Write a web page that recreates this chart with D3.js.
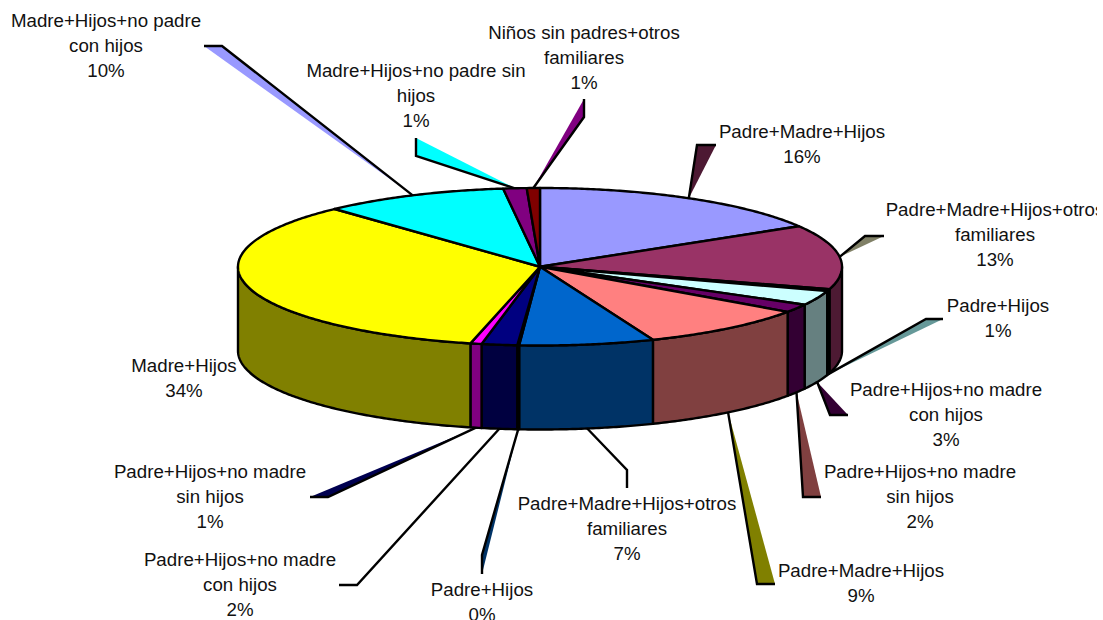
<!DOCTYPE html>
<html><head><meta charset="utf-8">
<script src="https://cdn.jsdelivr.net/npm/d3@7/dist/d3.min.js"></script>
<style>html,body{margin:0;background:#fff}svg{display:block}text{font-family:"Liberation Sans",Arial,sans-serif;font-size:18.7px;fill:#111}</style>
</head><body><div id="c"></div>
<script>
const categories = [
 "Padre+Madre+Hijos","Padre+Madre+Hijos+otros familiares","Padre+Hijos","Padre+Hijos+no madre con hijos",
 "Padre+Hijos+no madre sin hijos","Padre+Madre+Hijos","Padre+Madre+Hijos+otros familiares","Padre+Hijos",
 "Padre+Hijos+no madre con hijos","Padre+Hijos+no madre sin hijos","Madre+Hijos","Madre+Hijos+no padre con hijos",
 "Madre+Hijos+no padre sin hijos","Niños sin padres+otros familiares"];
const values = [16.4,13.2,0.4,3.0,1.7,9.2,7.2,0.1,1.9,0.6,34.4,9.95,1.25,0.7];
const percentLabels = ["16%","13%","1%","3%","2%","9%","7%","0%","2%","1%","34%","10%","1%","1%"];
const labelLines = [
 ["Padre+Madre+Hijos"],["Padre+Madre+Hijos+otros","familiares"],["Padre+Hijos"],["Padre+Hijos+no madre","con hijos"],
 ["Padre+Hijos+no madre","sin hijos"],["Padre+Madre+Hijos"],["Padre+Madre+Hijos+otros","familiares"],["Padre+Hijos"],
 ["Padre+Hijos+no madre","con hijos"],["Padre+Hijos+no madre","sin hijos"],["Madre+Hijos"],["Madre+Hijos+no padre","con hijos"],
 ["Madre+Hijos+no padre sin","hijos"],["Niños sin padres+otros","familiares"]];
const colors = ["#9999FF","#993366","#FFFFCC","#CCFFFF","#660066","#FF8080","#0066CC","#CCCCFF","#000080","#FF00FF","#FFFF00","#00FFFF","#800080","#800000"];
const leaderFills = ["#4D1933","#808066","#669999","#330033","#804040","#808000","none","#003366","none","#000050","none","#9999FF","#00FFFF","#800080"];
// layout of callouts: elbow x/y, tail x/y (null = no leader)
const leaderLayout = [
 [697,145,716,145],[865,236,884,236],[926,319,943,319],[830,415,848,415],[803,497,821,497],[757,584,775,584],
 [627,470,627,488],[482,555,482,574],[357,585,339,585],[328,497,310,497],null,[222,46,204,46],[416,156,416,138],[584,117,584,99]];
const labelPos = [[802,138],[995,216],[998,312],[946,396],[920,478],[861,577],[627,510],[482,596],[240,566],[210,478],[184,372],[106,27],[416,77],[584,39]];

const W=1097,H=620,depth=84,lineH=25;
const x=d3.scaleLinear().domain([-1,1]).range([238,842]);
const y=d3.scaleLinear().domain([-1,1]).range([188,345.5]);
const px=a=>x(Math.sin(a)), py=a=>y(-Math.cos(a));
const arcs=d3.pie().sort(null).value(d=>d)(values);
const samples=(a,b)=>{const n=Math.max(2,Math.ceil((b-a)/0.01));return d3.range(n+1).map(i=>a+(b-a)*i/n);};
const line=d3.line().x(d=>d[0]).y(d=>d[1]);
const svg=d3.select("#c").append("svg").attr("width",1103).attr("height",H);
svg.append("clipPath").attr("id","pg").append("rect").attr("width",W).attr("height",H);
const root=svg.append("g").attr("clip-path","url(#pg)");
const SW=2.4;

// leaders
arcs.forEach((d,i)=>{
  const L=leaderLayout[i]; if(!L) return;
  const mid=(d.startAngle+d.endAngle)/2;
  const A=[px(mid),py(mid)+(Math.cos(mid)<0?depth:0)];
  const pts=[A,[L[0],L[1]],[L[2],L[3]]];
  root.append("path").attr("d",line(pts)+"Z").attr("fill",leaderFills[i]).attr("stroke","none");
  root.append("path").attr("d",line(pts)).attr("fill","none").attr("stroke","#000").attr("stroke-width",SW);
});

// walls (front half only)
const lo=Math.PI/2, hi=3*Math.PI/2;
arcs.forEach((d,i)=>{
  const a=Math.max(d.startAngle,lo), b=Math.min(d.endAngle,hi);
  if(b<=a) return;
  const s=samples(a,b);
  const top=s.map(t=>[px(t),py(t)]);
  const bot=s.slice().reverse().map(t=>[px(t),py(t)+depth]);
  const c=d3.rgb(colors[i]);
  const wall=d3.rgb(c.r/2,c.g/2,c.b/2);
  root.append("path").attr("d",line(top.concat(bot))+"Z").attr("fill",wall.formatHex())
    .attr("stroke","#000").attr("stroke-width",SW).attr("stroke-linejoin","round");
});

// top faces
arcs.forEach((d,i)=>{
  const pts=[[x(0),y(0)]].concat(samples(d.startAngle,d.endAngle).map(t=>[px(t),py(t)]));
  root.append("path").attr("d",line(pts)+"Z").attr("fill",colors[i])
    .attr("stroke","#000").attr("stroke-width",SW).attr("stroke-linejoin","round");
});

// labels
labelPos.forEach((p,i)=>{
  const t=root.append("text").attr("text-anchor","middle");
  labelLines[i].concat([percentLabels[i]]).forEach((s,k)=>{
    t.append("tspan").attr("x",p[0]).attr("y",p[1]+k*lineH).text(s);
  });
});
</script></body></html>
